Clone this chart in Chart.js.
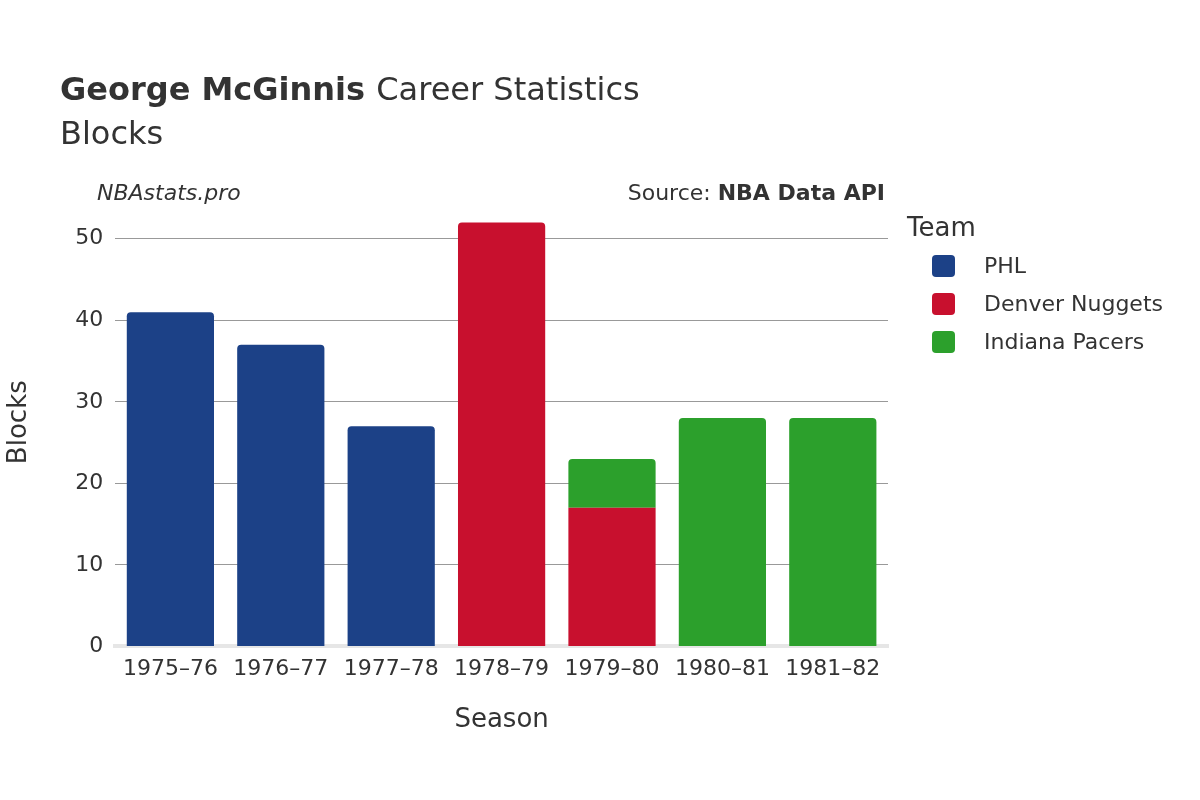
<!DOCTYPE html>
<html>
<head>
<meta charset="utf-8">
<script src="https://cdn.jsdelivr.net/npm/chart.js@4/dist/chart.umd.min.js"></script>
<style>
  html, body { margin: 0; padding: 0; background: #fff; }
  #wrap { width: 1200px; height: 800px; position: relative; }
</style>
</head>
<body>
<div id="wrap"><canvas id="chart" width="1200" height="800"></canvas></div>
<script>
const seasons = ['1975–76', '1976–77', '1977–78', '1978–79', '1979–80', '1980–81', '1981–82'];
const phlBlocks = [41, 37, 27, null, null, null, null];
const denverBlocks = [null, null, null, 52, 17, null, null];
const indianaBlocks = [null, null, null, null, 6, 28, 28];
const teamNames = ['PHL', 'Denver Nuggets', 'Indiana Pacers'];
const teamColors = ['#1c4187', '#c8102e', '#2ca02c'];
const yTicks = [0, 10, 20, 30, 40, 50];

const FONT = '"DejaVu Sans", sans-serif';

const textPlugin = {
  id: 'texts',
  afterDraw(chart) {
    const c = chart.ctx;
    c.save();
    c.fillStyle = '#333';
    c.textBaseline = 'alphabetic';
    c.textAlign = 'left';
    c.font = `bold 32px ${FONT}`;
    c.fillText('George McGinnis', 60, 100);
    const w = c.measureText('George McGinnis ').width;
    c.font = `32px ${FONT}`;
    c.fillText('Career Statistics', 60 + w, 100);
    c.fillText('Blocks', 60, 144);

    c.font = `italic 22px ${FONT}`;
    c.fillText('NBAstats.pro', 97, 200);
    c.textAlign = 'right';
    c.font = `bold 22px ${FONT}`;
    c.fillText('NBA Data API', 885, 200);
    const bw = c.measureText('NBA Data API').width;
    c.font = `22px ${FONT}`;
    c.fillText('Source: ', 885 - bw, 200);

    // legend
    c.textAlign = 'left';
    c.font = `26px ${FONT}`;
    c.fillText('Team', 907, 236);
    c.font = `22px ${FONT}`;
    teamNames.forEach((name, i) => {
      const y = 266 + i * 38;
      c.fillStyle = teamColors[i];
      c.beginPath();
      c.roundRect(932, y - 11, 23, 22, 4);
      c.fill();
      c.fillStyle = '#333';
      c.textBaseline = 'middle';
      c.fillText(name, 984, y + 1);
    });
    c.restore();
  }
};

function makeSet(label, data, color, idx) {
  return {
    label,
    data,
    backgroundColor: color,
    borderWidth: idx === 2 ? { bottom: 1 } : 0,
    borderColor: '#ffffff',
    borderSkipped: 'start',
    borderRadius: (ctx) => (idx === 1 && ctx.dataIndex === 4 ? 0 : 4),
    barPercentage: 0.79,
    categoryPercentage: 1
  };
}

new Chart(document.getElementById('chart'), {
  type: 'bar',
  data: {
    labels: seasons,
    datasets: [
      makeSet(teamNames[0], phlBlocks, teamColors[0], 0),
      makeSet(teamNames[1], denverBlocks, teamColors[1], 1),
      makeSet(teamNames[2], indianaBlocks, teamColors[2], 2)
    ]
  },
  options: {
    responsive: false,
    animation: false,
    layout: { padding: { left: 0, right: 312, top: 198, bottom: 60 } },
    plugins: { legend: { display: false }, tooltip: { enabled: false } },
    scales: {
      x: {
        stacked: true,
        grid: { display: false },
        border: { color: '#e6e6e6', width: 4 },
        ticks: { color: '#333', font: { family: FONT, size: 22 }, padding: 2, maxRotation: 0 },
        title: { display: true, text: 'Season', color: '#333', font: { family: FONT, size: 26 }, padding: { top: 20 } }
      },
      y: {
        stacked: true,
        min: 0,
        max: 55,
        afterBuildTicks: (axis) => { axis.ticks = yTicks.map((v) => ({ value: v })); },
        grid: { color: '#999', lineWidth: 1, drawTicks: false },
        border: { display: false },
        ticks: { color: '#333', font: { family: FONT, size: 22 }, padding: 12 },
        title: { display: true, text: 'Blocks', color: '#333', font: { family: FONT, size: 26 }, padding: { bottom: 28 } }
      }
    }
  },
  plugins: [textPlugin]
});
</script>
</body>
</html>
